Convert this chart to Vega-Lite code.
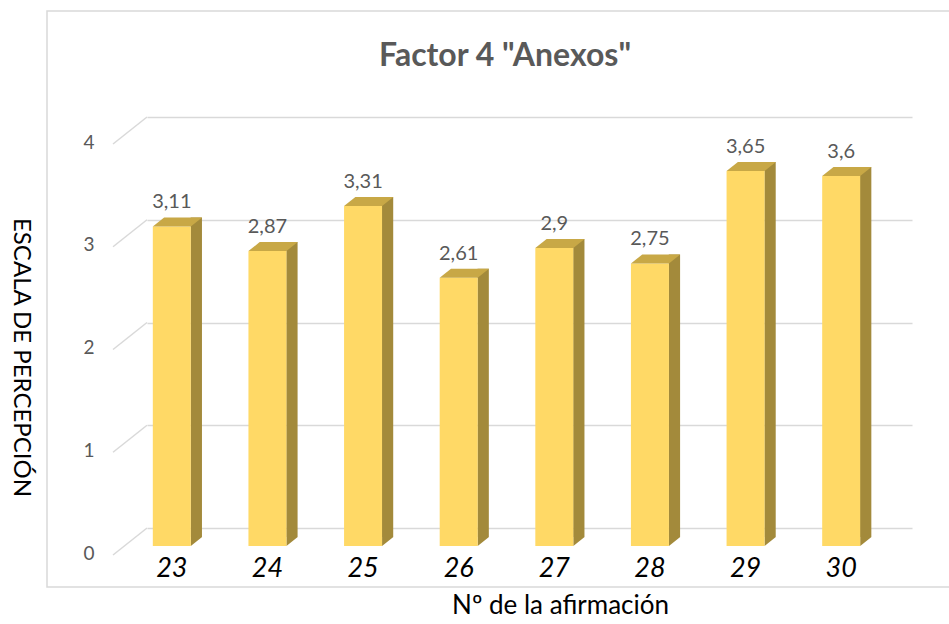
{
  "$schema": "https://vega.github.io/schema/vega-lite/v6.json",
  "width": 916,
  "height": 576,
  "autosize": {"type": "none"},
  "padding": {"left": 47, "top": 11, "right": 0, "bottom": 37},
  "background": "white",
  "title": {"text": "Factor 4 \"Anexos\"", "frame": "group", "anchor": "middle", "baseline": "alphabetic", "offset": 0, "dy": 87, "font": "Lato", "fontSize": 32, "fontWeight": "bold", "color": "#595959"},
  "config": {
    "view": {"stroke": "#D9D9D9", "strokeWidth": 1.5},
    "locale": {"number": {"decimal": ",", "thousands": ".", "grouping": [3], "currency": ["", " €"]}}
  },
  "datasets": {
    "bars": [
      {"n": 23, "v": 3.11}, {"n": 24, "v": 2.87}, {"n": 25, "v": 3.31}, {"n": 26, "v": 2.61},
      {"n": 27, "v": 2.9}, {"n": 28, "v": 2.75}, {"n": 29, "v": 3.65}, {"n": 30, "v": 3.6}
    ],
    "levels": [{"g": 0}, {"g": 1}, {"g": 2}, {"g": 3}, {"g": 4}]
  },
  "layer": [
    {
      "data": {"name": "bars"},
      "mark": {"type": "bar", "width": 11.3, "xOffset": 1.5, "yOffset": 9, "y2Offset": 9, "color": "#A38A3B"},
      "encoding": {
        "x": {"field": "n", "type": "ordinal", "scale": {"range": [100, 865], "paddingInner": 0, "paddingOuter": 0},
          "axis": {"title": "Nº de la afirmación", "titleX": 513, "titleY": 77, "titleAlign": "center", "titleBaseline": "middle", "titleFont": "Lato", "titleFontSize": 26, "titleFontWeight": "normal", "titleColor": "#000000", "offset": -59, "domain": false, "ticks": false, "grid": false, "labelAngle": 0, "labelFont": "Lato", "labelFontSize": 27, "labelFontStyle": "italic", "labelColor": "#000000", "labelPadding": 27, "labelOffset": -23}},
        "y": {"field": "v", "type": "quantitative", "scale": {"domain": [0, 4], "range": [517, 106], "nice": false},
          "axis": {"title": "ESCALA DE PERCEPCIÓN", "titleAngle": 90, "titleX": -127, "titleY": 346, "titleAlign": "center", "titleBaseline": "middle", "titleFont": "Lato", "titleFontSize": 24, "titleFontWeight": "normal", "titleColor": "#000000", "offset": -100, "domain": false, "ticks": false, "grid": true, "gridColor": "#D9D9D9", "gridWidth": 1.5, "values": [0, 1, 2, 3, 4], "format": "d", "labelFont": "Lato", "labelFontSize": 19, "labelColor": "#595959", "labelPadding": 53, "labelOffset": 25}},
        "y2": {"datum": 0}
      }
    },
    {
      "data": {"name": "levels"},
      "mark": {"type": "point", "shape": "M-1,0.794L0,0", "size": 4624, "filled": false, "opacity": 1, "stroke": "#D9D9D9", "strokeWidth": 1.5, "xOffset": -47.8},
      "encoding": {
        "x": {"datum": 23, "type": "ordinal"},
        "y": {"field": "g", "type": "quantitative"}
      }
    },
    {
      "data": {"name": "bars"},
      "mark": {"type": "point", "shape": "M0,-0.75L0,0L0.94,-0.75Z", "size": 576, "filled": true, "opacity": 1, "color": "#A38A3B", "xOffset": -4, "yOffset": 18},
      "encoding": {
        "x": {"field": "n", "type": "ordinal"},
        "y": {"datum": 0, "type": "quantitative"}
      }
    },
    {
      "data": {"name": "bars"},
      "mark": {"type": "bar", "width": 38, "xOffset": -23, "yOffset": 18, "y2Offset": 18, "color": "#FFD966"},
      "encoding": {
        "x": {"field": "n", "type": "ordinal"},
        "y": {"field": "v", "type": "quantitative"},
        "y2": {"datum": 0}
      }
    },
    {
      "data": {"name": "bars"},
      "mark": {"type": "point", "shape": "M-0.76,0L0.76,0L1.212,-0.36L-0.308,-0.36Z", "size": 2500, "filled": true, "opacity": 1, "color": "#C8A846", "xOffset": -23, "yOffset": 18},
      "encoding": {
        "x": {"field": "n", "type": "ordinal"},
        "y": {"field": "v", "type": "quantitative"}
      }
    },
    {
      "data": {"name": "bars"},
      "mark": {"type": "text", "xOffset": -23, "baseline": "alphabetic", "align": "center", "font": "Lato", "fontSize": 20, "color": "#595959"},
      "encoding": {
        "x": {"field": "n", "type": "ordinal"},
        "y": {"field": "v", "type": "quantitative"},
        "text": {"field": "v", "type": "quantitative", "format": ".2~f"}
      }
    }
  ]
}
